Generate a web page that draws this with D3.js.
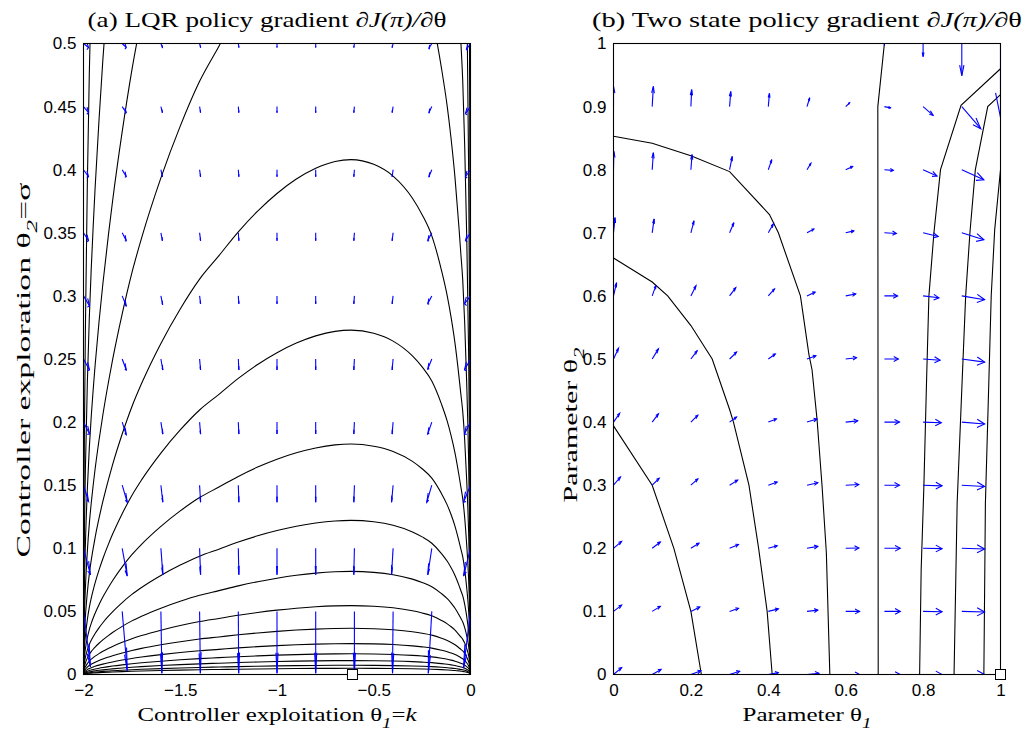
<!DOCTYPE html>
<html>
<head>
<meta charset="utf-8">
<script src="https://cdn.jsdelivr.net/npm/d3@7"></script>
<style>
  body { margin: 0; background: #fff; }
  .tick text { font-family: "Liberation Sans", Arial, sans-serif; font-size: 17px; fill: #000; }
  .lab { font-family: "Liberation Serif", "Times New Roman", serif; fill: #000; }
</style>
</head>
<body>
<svg id="fig" width="1027" height="732"></svg>
<script>
// ---- tick values ----
const lqrXTicks = [-2, -1.5, -1, -0.5, 0];
const lqrYTicks = [0, 0.05, 0.1, 0.15, 0.2, 0.25, 0.3, 0.35, 0.4, 0.45, 0.5];
const twoXTicks = [0, 0.2, 0.4, 0.6, 0.8, 1];
const twoYTicks = [0, 0.1, 0.2, 0.3, 0.4, 0.5, 0.6, 0.7, 0.8, 0.9, 1];

// ---- (a) LQR: quiver grid and arrows (data units) ----
const lqrGridK = [-2, -1.8, -1.6, -1.4, -1.2, -1, -0.8, -0.6, -0.4, -0.2, 0];
const lqrGridS = [0.05, 0.1, 0.15, 0.2, 0.25, 0.3, 0.35, 0.4, 0.45, 0.5];
const lqrU = [
  [0.036, 0.026, 0.005, 0.004, 0.002, 0, 0, 0, -0.003, -0.018, -0.036],
  [0.036, 0.026, 0.010, 0.005, 0.003, 0, 0, -0.003, -0.008, -0.021, -0.036],
  [0.026, 0.026, 0.010, 0.005, 0.003, 0, 0, -0.003, -0.008, -0.026, -0.036],
  [0.031, 0.021, 0.010, 0.005, 0.003, 0, 0, -0.003, -0.005, -0.021, -0.031],
  [0.031, 0.021, 0.010, 0.005, 0.003, 0, 0, -0.003, -0.005, -0.021, -0.031],
  [0.031, 0.021, 0.009, 0.005, 0.003, 0, 0, -0.003, -0.005, -0.021, -0.031],
  [0.026, 0.021, 0.008, 0.005, 0.003, 0, 0, -0.003, -0.005, -0.021, -0.026],
  [0.026, 0.021, 0.008, 0.005, 0.003, 0, 0, -0.003, -0.005, -0.015, -0.026],
  [0.026, 0.021, 0.008, 0.005, 0.003, 0, 0, -0.003, -0.005, -0.015, -0.026],
  [0.026, 0.021, 0.008, 0.005, 0.003, 0, 0, -0.003, -0.005, -0.015, -0.021]
];
const lqrV = [
  [-0.044, -0.047, -0.049, -0.049, -0.049, -0.049, -0.049, -0.049, -0.049, -0.049, -0.045],
  [-0.021, -0.022, -0.021, -0.021, -0.021, -0.021, -0.021, -0.021, -0.021, -0.021, -0.022],
  [-0.013, -0.0135, -0.0135, -0.0135, -0.0135, -0.0135, -0.0135, -0.0135, -0.0135, -0.0135, -0.0135],
  [-0.0095, -0.010, -0.0095, -0.0095, -0.0095, -0.0095, -0.0095, -0.0095, -0.0095, -0.0095, -0.0095],
  [-0.0087, -0.0087, -0.0087, -0.0087, -0.0087, -0.0087, -0.0087, -0.0087, -0.0087, -0.008, -0.0087],
  [-0.008, -0.008, -0.007, -0.0063, -0.0063, -0.0063, -0.0063, -0.0063, -0.0063, -0.0063, -0.0063],
  [-0.0063, -0.0063, -0.0063, -0.0063, -0.0063, -0.0063, -0.0063, -0.0063, -0.0063, -0.0063, -0.0063],
  [-0.0056, -0.0056, -0.0056, -0.0056, -0.0056, -0.0056, -0.0056, -0.0056, -0.0056, -0.0056, -0.0056],
  [-0.0048, -0.0048, -0.0048, -0.0048, -0.0048, -0.0048, -0.0048, -0.0048, -0.0048, -0.0048, -0.0056],
  [-0.0032, -0.0032, -0.0032, -0.0032, -0.0032, -0.0032, -0.0032, -0.0032, -0.0032, -0.004, -0.0048]
];

// ---- (a) LQR contours: every level is the same arch, scaled to its peak ----
// arch profile (height relative to the peak at k = -0.618)
const lqrProfileK = [-2, -1.999, -1.998, -1.995, -1.99, -1.98, -1.97, -1.96, -1.95, -1.94,
  -1.92, -1.9, -1.87, -1.85, -1.8, -1.75, -1.7, -1.6, -1.5, -1.4,
  -1.3, -1.2, -1.1, -1.0, -0.9, -0.8, -0.7, -0.618, -0.5, -0.4,
  -0.3, -0.25, -0.2, -0.15, -0.12, -0.1, -0.08, -0.06, -0.05, -0.04,
  -0.03, -0.02, -0.01, -0.005, -0.002, -0.001, 0];
const lqrProfile = [0, 0.036, 0.051, 0.080, 0.113, 0.160, 0.195, 0.222, 0.245, 0.266,
  0.303, 0.336, 0.380, 0.407, 0.467, 0.520, 0.565, 0.643, 0.710, 0.768,
  0.8135, 0.8597, 0.900, 0.9342, 0.9622, 0.9832, 0.9964, 1, 0.9908, 0.968,
  0.925, 0.893, 0.852, 0.785, 0.735, 0.693, 0.643, 0.580, 0.545, 0.510,
  0.455, 0.380, 0.280, 0.200, 0.130, 0.090, 0];
// peak height (sigma at k = -0.618) of each contour level
const lqrLevelPeaks = [2.44, 1.449, 0.921, 0.612, 0.408, 0.2729, 0.1826, 0.1221, 0.0817,
  0.0546, 0.0366, 0.0245, 0.0164, 0.011, 0.0073, 0.0049];

// ---- (b) two state: quiver grid and arrows (data units) ----
const twoGrid1 = [0, 0.1, 0.2, 0.3, 0.4, 0.5, 0.6, 0.7, 0.8, 0.9, 1];
const twoGrid2 = [0, 0.1, 0.2, 0.3, 0.4, 0.5, 0.6, 0.7, 0.8, 0.9, 1];
const twoU = [
  [0.021, 0.023, 0.026, 0.026, 0.026, 0.031, 0.036, 0.041, 0.049, 0.059, 0],
  [0.021, 0.021, 0.023, 0.023, 0.026, 0.028, 0.036, 0.041, 0.049, 0.059, 0],
  [0.021, 0.021, 0.021, 0.023, 0.023, 0.028, 0.034, 0.041, 0.049, 0.059, 0],
  [0.018, 0.018, 0.018, 0.021, 0.023, 0.028, 0.034, 0.039, 0.049, 0.059, 0],
  [0.016, 0.016, 0.018, 0.018, 0.021, 0.026, 0.031, 0.039, 0.047, 0.059, 0],
  [0.013, 0.016, 0.016, 0.018, 0.018, 0.023, 0.028, 0.036, 0.044, 0.059, 0],
  [0.008, 0.010, 0.013, 0.016, 0.016, 0.021, 0.026, 0.034, 0.041, 0.059, 0],
  [0.004, 0.005, 0.008, 0.011, 0.013, 0.018, 0.021, 0.031, 0.039, 0.057, 0],
  [0.001, 0.003, 0.003, 0.007, 0.009, 0.010, 0.018, 0.023, 0.036, 0.057, 0],
  [0, 0.003, 0.002, 0.003, 0.003, 0.007, 0.010, 0.016, 0.026, 0.049, 0],
  [0, 0, 0, 0, 0, 0, 0, 0, 0, 0, 0]
];
const twoV = [
  [0.011, 0.008, 0.006, 0.005, 0.003, 0.002, 0, 0, 0, 0, 0],
  [0.010, 0.008, 0.007, 0.005, 0.004, 0.002, 0, 0, -0.0005, -0.001, 0],
  [0.011, 0.010, 0.008, 0.006, 0.004, 0.003, 0.0005, 0, -0.0005, -0.001, 0],
  [0.013, 0.011, 0.010, 0.008, 0.005, 0.004, 0.001, 0, -0.001, -0.002, 0],
  [0.014, 0.013, 0.011, 0.008, 0.005, 0.005, 0.002, 0, -0.001, -0.003, 0],
  [0.017, 0.016, 0.013, 0.011, 0.008, 0.005, 0.002, 0, -0.002, -0.005, 0],
  [0.021, 0.017, 0.016, 0.013, 0.011, 0.006, 0.003, 0, -0.003, -0.006, 0],
  [0.024, 0.022, 0.019, 0.016, 0.014, 0.006, 0.003, -0.001, -0.006, -0.011, 0],
  [0.029, 0.027, 0.024, 0.021, 0.016, 0.010, 0.005, -0.001, -0.010, -0.016, 0],
  [0.032, 0.032, 0.027, 0.024, 0.021, 0.014, 0.006, -0.002, -0.014, -0.035, 0],
  [0, 0, 0, 0, 0, 0, 0, -0.003, -0.021, -0.051, -0.117]
];

// ---- (b) two state: contour lines, [theta1, theta2] ----
const twoContours = [
  [[0, 0.853], [0.1, 0.842], [0.2, 0.822], [0.3, 0.797], [0.403, 0.729], [0.426, 0.7], [0.483, 0.6], [0.505, 0.507], [0.513, 0.483], [0.526, 0.404], [0.539, 0.298], [0.55, 0.193], [0.559, 0]],
  [[0, 0.66], [0.1, 0.622], [0.14, 0.6], [0.2, 0.553], [0.255, 0.5], [0.3, 0.42], [0.31, 0.4], [0.35, 0.3], [0.375, 0.2], [0.397, 0.1], [0.41, 0]],
  [[0, 0.394], [0.1, 0.3], [0.156, 0.2], [0.2, 0.1], [0.227, 0]],
  [[0.7, 1.0], [0.683, 0.9], [0.684, 0]],
  [[1.0, 0.96], [0.898, 0.902], [0.845, 0.8], [0.828, 0.7], [0.815, 0.6], [0.809, 0.467], [0.802, 0.298], [0.795, 0.166], [0.791, 0]],
  [[1.0, 0.919], [0.967, 0.9], [0.935, 0.8], [0.921, 0.7], [0.91, 0.6], [0.901, 0.467], [0.888, 0.272], [0.88, 0]],
  [[1.0, 0.8], [0.985, 0.705], [0.976, 0.6], [0.97, 0.467], [0.961, 0.272], [0.957, 0]]
];

const lqrOptimum = [-0.61, 0];
const twoOptimum = [1, 0];

const svg = d3.select('#fig');
const fmt = d3.format('~g');

// MATLAB-style quiver arrow, head computed in data units
function quiverArrows(xs, ys, U, V) {
  const a = 0.33, b = 0.33, out = [];
  ys.forEach((yy, i) => xs.forEach((xx, j) => {
    const u = U[i][j], v = V[i][j];
    if (u === 0 && v === 0) return;
    const tx = xx + u, ty = yy + v;
    out.push([[xx, yy], [tx, ty]]);
    out.push([[tx - a * (u + b * v), ty - a * (v - b * u)], [tx, ty],
              [tx - a * (u - b * v), ty - a * (v + b * u)]]);
  }));
  return out;
}

// text made of parts, stretched horizontally to a measured width
function label(parts, cx, cy, size, width, rotate) {
  const t = svg.append('text').attr('class', 'lab')
      .attr('font-size', size).attr('text-anchor', 'middle');
  let shift = 0;
  parts.forEach(p => {
    const s = t.append('tspan').text(p.t);
    if (p.i) s.attr('font-style', 'italic');
    const want = p.sub ? size * 0.35 : 0;
    if (want !== shift) { s.attr('dy', want - shift); shift = want; }
    if (p.sub) s.attr('font-size', size * 0.75);
  });
  const w = t.node().getComputedTextLength();
  t.attr('transform', 'translate(' + cx + ',' + cy + ')' +
      (rotate ? ' rotate(-90)' : '') + ' scale(' + (width / w) + ',1)');
  return t;
}

function panel(cfg) {
  const x = d3.scaleLinear().domain(cfg.xDomain).range([cfg.left, cfg.right]);
  const y = d3.scaleLinear().domain(cfg.yDomain).range([cfg.bottom, cfg.top]);
  const clipId = cfg.id + '-clip';
  svg.append('clipPath').attr('id', clipId).append('rect')
      .attr('x', cfg.left).attr('y', cfg.top)
      .attr('width', cfg.right - cfg.left).attr('height', cfg.bottom - cfg.top);

  const g = svg.append('g').attr('clip-path', 'url(#' + clipId + ')');

  g.append('g').selectAll('path')
      .data(cfg.contours)
      .join('path')
      .attr('d', d3.line().x(d => x(d[0])).y(d => y(d[1])).curve(cfg.curve))
      .attr('fill', 'none')
      .attr('stroke', '#000')
      .attr('stroke-width', 1.1);

  g.append('g').selectAll('path')
      .data(quiverArrows(cfg.gx, cfg.gy, cfg.U, cfg.V))
      .join('path')
      .attr('d', d3.line().x(d => x(d[0])).y(d => y(d[1])))
      .attr('fill', 'none')
      .attr('stroke', '#0000ff')
      .attr('stroke-width', 1.1);

  // axes: labels only, box drawn separately
  svg.append('g')
      .attr('transform', 'translate(0,' + cfg.bottom + ')')
      .call(d3.axisBottom(x).tickValues(cfg.xTicks).tickFormat(fmt).tickSize(0).tickPadding(9))
      .call(s => s.select('.domain').remove());
  svg.append('g')
      .attr('transform', 'translate(' + cfg.left + ',0)')
      .call(d3.axisLeft(y).tickValues(cfg.yTicks).tickFormat(fmt).tickSize(0).tickPadding(7))
      .call(s => s.select('.domain').remove());

  svg.append('rect')
      .attr('x', cfg.left).attr('y', cfg.top)
      .attr('width', cfg.right - cfg.left).attr('height', cfg.bottom - cfg.top)
      .attr('fill', 'none').attr('stroke', '#000').attr('stroke-width', 1.1);

  svg.append('rect')
      .attr('x', x(cfg.opt[0]) - 5).attr('y', y(cfg.opt[1]) - 5)
      .attr('width', 10).attr('height', 10)
      .attr('fill', '#fff').attr('stroke', '#000').attr('stroke-width', 1);
}

const lqrContours = lqrLevelPeaks.map(p => lqrProfileK.map((k, i) => [k, p * lqrProfile[i]]));

panel({
  id: 'lqr', xDomain: [-2, 0], yDomain: [0, 0.5],
  left: 83.5, right: 470.5, top: 43.5, bottom: 674.5,
  xTicks: lqrXTicks, yTicks: lqrYTicks,
  contours: lqrContours, curve: d3.curveMonotoneX,
  gx: lqrGridK, gy: lqrGridS, U: lqrU, V: lqrV,
  opt: lqrOptimum
});
panel({
  id: 'two', xDomain: [0, 1], yDomain: [0, 1],
  left: 613.5, right: 1000.5, top: 43.5, bottom: 674.5,
  xTicks: twoXTicks, yTicks: twoYTicks,
  contours: twoContours, curve: d3.curveLinear,
  gx: twoGrid1, gy: twoGrid2, U: twoU, V: twoV,
  opt: twoOptimum
});

// titles and axis labels
label([{t: '(a) LQR policy gradient \u2202'}, {t: 'J(\u03c0)/', i: true}, {t: '\u2202\u03b8'}],
      267, 27, 21, 359);
label([{t: '(b) Two state policy gradient \u2202'}, {t: 'J(\u03c0)/', i: true}, {t: '\u2202\u03b8'}],
      807, 27, 21, 430);
label([{t: 'Controller exploitation \u03b8'}, {t: '1', i: true, sub: true}, {t: '='}, {t: 'k', i: true}],
      277, 721, 19, 279);
label([{t: 'Parameter \u03b8'}, {t: '1', i: true, sub: true}],
      807, 721, 19, 129);
label([{t: 'Controller exploration \u03b8'}, {t: '2', i: true, sub: true}, {t: '=\u03c3'}],
      30, 370, 19, 375, true);
label([{t: 'Parameter \u03b8'}, {t: '2', i: true, sub: true}],
      577, 425, 19, 155, true);
</script>
</body>
</html>
